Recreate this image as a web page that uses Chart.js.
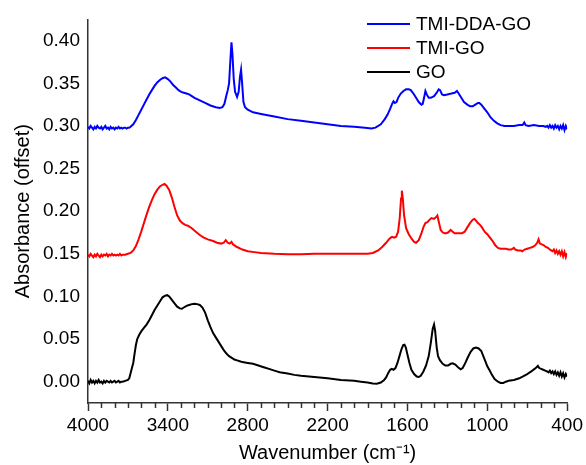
<!DOCTYPE html>
<html>
<head>
<meta charset="utf-8">
<script src="https://cdn.jsdelivr.net/npm/chart.js@4/dist/chart.umd.min.js"></script>
<style>
  body { margin: 0; background: #fff; }
  #wrap { width: 586px; height: 465px; }
</style>
</head>
<body>
<div id="wrap"><canvas id="ftir"></canvas></div>
<script>
// FTIR spectra (offset). wavenumber in cm-1, absorbance
const seriesLabels = ['TMI-DDA-GO', 'TMI-GO', 'GO'];
const seriesColors = ['#0000ff', '#ff0000', '#000000'];

const xTicks = [4000, 3400, 2800, 2200, 1600, 1000, 400];
const yTicks = [0.00, 0.05, 0.10, 0.15, 0.20, 0.25, 0.30, 0.35, 0.40];

const ddaWn = [4000,3990,3980,3970,3960,3950,3940,3930,3920,3910,3900,3890,3880,3870,3860,3850,3840,3830,3820,3810,3800,3790,3780,3770,3760,3750,3740,3730,3720,3710,3700,3690,3680,
  3660,3640,3620,3600,3580,3560,3540,3520,3500,3480,3460,3440,3420,3400,3380,3360,3340,3320,3300,3280,3260,3240,3220,3200,3160,3120,3080,3040,3010,2990,2975,2960,2950,2940,2930,2922,2915,2905,2895,2880,2868,2858,2850,2842,2832,2820,2800,2760,2700,2600,2500,2400,2300,2200,2100,2000,1920,1870,1840,1800,1770,1750,1730,1715,1705,1695,1682,1670,1650,1630,1610,1590,1575,1555,1535,1515,1495,1485,1475,1465,1455,1440,1425,1400,1380,1365,1355,1340,1325,1300,1270,1245,1228,1215,1195,1175,1150,1130,1110,1090,1070,1060,1045,1025,1000,975,950,925,900,870,840,800,760,735,722,712,690,650,610,580,560,550,
  540,530,520,510,500,490,480,470,460,450,440,430,420,410,400];
const ddaAbs = [0.299,0.297,0.300,0.298,0.296,0.299,0.297,0.300,0.298,0.297,0.299,0.296,0.298,0.300,0.297,0.298,0.296,0.299,0.297,0.298,0.296,0.298,0.297,0.299,0.297,0.298,0.297,0.298,0.298,0.297,0.298,0.298,0.299,
  0.302,0.307,0.313,0.319,0.325,0.331,0.337,0.342,0.347,0.351,0.354,0.356,0.357,0.355,0.352,0.348,0.345,0.342,0.340,0.339,0.338,0.337,0.335,0.333,0.330,0.327,0.324,0.322,0.321,0.322,0.326,0.336,0.342,0.350,0.378,0.398,0.385,0.355,0.340,0.334,0.340,0.358,0.366,0.350,0.328,0.322,0.319,0.316,0.314,0.311,0.308,0.306,0.304,0.302,0.300,0.299,0.298,0.297,0.298,0.302,0.308,0.313,0.320,0.326,0.329,0.327,0.328,0.333,0.338,0.341,0.343,0.343,0.342,0.338,0.333,0.328,0.325,0.326,0.333,0.341,0.337,0.333,0.333,0.335,0.339,0.343,0.342,0.337,0.336,0.337,0.338,0.339,0.341,0.338,0.333,0.328,0.325,0.323,0.323,0.325,0.327,0.327,0.325,0.321,0.316,0.310,0.306,0.303,0.301,0.300,0.300,0.300,0.301,0.301,0.304,0.301,0.300,0.301,0.300,0.300,0.299,0.300,
  0.298,0.301,0.298,0.300,0.297,0.301,0.298,0.300,0.296,0.300,0.297,0.301,0.295,0.300,0.296];

const tmiWn = [4000,3990,3980,3970,3960,3950,3940,3930,3920,3910,3900,3890,3880,3870,3860,3850,3840,3830,3820,3810,3800,3790,3780,3770,3760,3750,3740,3720,3700,3680,
  3660,3640,3620,3600,3580,3560,3540,3520,3500,3480,3460,3440,3425,3410,3390,3370,3350,3330,3310,3290,3270,3250,3220,3190,3160,3130,3100,3060,3030,3000,2980,2965,2950,2935,2922,2910,2880,2840,2800,2750,2700,2600,2500,2400,2300,2200,2100,2000,1900,1860,1820,1790,1760,1740,1725,1715,1700,1685,1670,1658,1648,1642,1635,1625,1610,1590,1570,1550,1535,1515,1495,1478,1465,1450,1440,1420,1400,1385,1375,1365,1350,1335,1315,1295,1275,1260,1245,1230,1210,1190,1170,1150,1130,1110,1097,1085,1070,1055,1040,1020,1000,980,960,940,920,900,880,860,840,820,800,790,770,750,737,720,700,680,660,640,625,615,605,590,575,560,545,530,520,
  510,500,490,480,470,460,450,440,430,420,410,400];
const tmiAbs = [0.149,0.147,0.150,0.148,0.146,0.149,0.147,0.150,0.148,0.146,0.149,0.147,0.149,0.148,0.150,0.147,0.149,0.148,0.150,0.148,0.149,0.148,0.149,0.148,0.150,0.148,0.149,0.149,0.150,0.151,
  0.154,0.159,0.167,0.176,0.186,0.196,0.205,0.213,0.220,0.225,0.229,0.231,0.232,0.230,0.225,0.216,0.205,0.195,0.189,0.186,0.184,0.183,0.180,0.176,0.172,0.169,0.167,0.165,0.163,0.162,0.163,0.166,0.163,0.162,0.164,0.161,0.158,0.155,0.153,0.152,0.151,0.150,0.1495,0.1495,0.150,0.150,0.150,0.150,0.150,0.151,0.154,0.158,0.163,0.167,0.169,0.170,0.169,0.170,0.176,0.192,0.215,0.224,0.215,0.195,0.180,0.173,0.168,0.164,0.163,0.166,0.174,0.182,0.186,0.187,0.189,0.192,0.191,0.193,0.195,0.188,0.178,0.175,0.174,0.175,0.178,0.176,0.174,0.174,0.174,0.174,0.176,0.181,0.186,0.190,0.191,0.189,0.186,0.184,0.181,0.176,0.173,0.169,0.165,0.160,0.157,0.156,0.156,0.156,0.155,0.155,0.157,0.155,0.154,0.154,0.153,0.155,0.156,0.157,0.158,0.160,0.163,0.167,0.162,0.161,0.160,0.158,0.157,0.155,0.154,
  0.153,0.155,0.151,0.154,0.150,0.153,0.149,0.153,0.147,0.152,0.146,0.151];

const goWn = [4000,3990,3980,3970,3960,3950,3940,3930,3920,3910,3900,3890,3880,3870,3860,3850,3840,3830,3820,3810,3800,3790,3780,3770,3760,3750,3740,3720,3700,
  3690,3680,3670,3660,3650,3640,3630,3615,3600,3580,3560,3540,3520,3500,3480,3460,3440,3420,3405,3390,3370,3350,3330,3310,3295,3280,3260,3240,3220,3200,3180,3160,3140,3120,3100,3080,3060,3040,3020,3000,2980,2960,2940,2920,2900,2880,2860,2840,2800,2760,2720,2680,2640,2600,2560,2500,2450,2400,2300,2200,2100,2000,1950,1900,1860,1830,1800,1775,1760,1745,1730,1718,1705,1690,1675,1660,1645,1632,1622,1612,1600,1585,1570,1550,1530,1515,1500,1480,1460,1440,1425,1410,1400,1392,1380,1370,1355,1335,1315,1295,1275,1260,1240,1220,1200,1185,1165,1145,1125,1105,1085,1065,1045,1030,1015,1000,985,965,945,920,900,880,860,840,800,760,735,700,670,645,630,620,610,595,580,565,550,
  540,530,520,510,500,490,480,470,460,450,440,430,420,410,400];
const goAbs = [0.001,-0.002,0.002,-0.001,0.001,-0.002,0.001,-0.001,0.002,-0.001,0.000,-0.002,0.001,-0.001,0.001,0.000,-0.001,0.001,-0.001,0.000,0.001,-0.001,0.000,0.001,-0.001,0.000,0.000,0.001,0.002,
  0.004,0.010,0.016,0.022,0.033,0.043,0.050,0.055,0.059,0.063,0.067,0.072,0.078,0.084,0.089,0.094,0.099,0.101,0.1015,0.100,0.096,0.092,0.088,0.086,0.0855,0.087,0.089,0.090,0.091,0.0915,0.091,0.090,0.087,0.081,0.072,0.064,0.057,0.052,0.047,0.042,0.037,0.033,0.030,0.028,0.026,0.025,0.024,0.023,0.022,0.021,0.019,0.017,0.015,0.013,0.011,0.0095,0.008,0.007,0.0055,0.004,0.002,0.001,0.000,-0.001,-0.002,-0.0025,-0.001,0.002,0.005,0.010,0.014,0.015,0.014,0.016,0.022,0.030,0.038,0.043,0.0435,0.040,0.032,0.022,0.014,0.009,0.006,0.0055,0.007,0.012,0.019,0.030,0.045,0.062,0.067,0.060,0.040,0.030,0.025,0.021,0.019,0.019,0.021,0.0215,0.020,0.017,0.0145,0.016,0.022,0.029,0.035,0.039,0.040,0.039,0.036,0.030,0.024,0.018,0.014,0.008,0.003,0.000,-0.0015,-0.0015,0.000,0.001,0.002,0.004,0.006,0.009,0.012,0.015,0.017,0.0185,0.016,0.015,0.014,0.013,0.012,
  0.011,0.013,0.010,0.012,0.009,0.012,0.008,0.011,0.007,0.011,0.006,0.010,0.005,0.009,0.006];

function toPoints(wn, abs) {
  return wn.map((w, i) => ({ x: w, y: abs[i] }));
}

const FONT = "Arial, 'Liberation Sans', sans-serif";

// minor ticks on the x axis + legend drawn at top right
const extrasPlugin = {
  id: 'extras',
  afterDraw(chart) {
    const ctx = chart.ctx;
    const xs = chart.scales.x;
    ctx.save();
    ctx.strokeStyle = '#333';
    ctx.lineWidth = 1.5;
    for (let v = 400; v <= 4000; v += 100) {
      if (xTicks.includes(v)) continue;
      const px = Math.round(xs.getPixelForValue(v)) + 0.5;
      ctx.beginPath();
      ctx.moveTo(px, xs.top);
      ctx.lineTo(px, xs.top + 5);
      ctx.stroke();
    }
    // legend
    ctx.font = '19px ' + FONT;
    ctx.textBaseline = 'middle';
    seriesLabels.forEach((lab, i) => {
      const y = 24 + i * 24;
      ctx.strokeStyle = seriesColors[i];
      ctx.lineWidth = 2;
      ctx.beginPath();
      ctx.moveTo(367, y);
      ctx.lineTo(410, y);
      ctx.stroke();
      ctx.fillStyle = '#000';
      ctx.fillText(lab, 416, y + 1);
    });
    ctx.restore();
  }
};

const ctx = document.getElementById('ftir').getContext('2d');
new Chart(ctx, {
  type: 'line',
  data: {
    datasets: [
      { label: seriesLabels[0], data: toPoints(ddaWn, ddaAbs), borderColor: seriesColors[0] },
      { label: seriesLabels[1], data: toPoints(tmiWn, tmiAbs), borderColor: seriesColors[1] },
      { label: seriesLabels[2], data: toPoints(goWn, goAbs), borderColor: seriesColors[2] }
    ]
  },
  options: {
    responsive: true,
    maintainAspectRatio: false,
    animation: false,
    layout: { padding: { left: 0, right: 18, top: 14, bottom: 0 } },
    elements: {
      point: { radius: 0 },
      line: { borderWidth: 2, tension: 0, fill: false }
    },
    plugins: {
      legend: { display: false },
      tooltip: { enabled: false }
    },
    scales: {
      x: {
        type: 'linear',
        reverse: true,
        min: 400,
        max: 4000,
        afterBuildTicks: s => { s.ticks = xTicks.map(v => ({ value: v })); },
        afterFit: s => { s.height = 62; },
        grid: { drawOnChartArea: false, drawTicks: true, tickLength: 8, tickColor: '#333', tickWidth: 1.5 },
        border: { display: true, color: '#333', width: 1.5 },
        ticks: { color: '#000', font: { family: FONT, size: 19 }, padding: 3, maxRotation: 0, callback: v => String(v) },
        title: { display: true, text: 'Wavenumber (cm\u207B\u00B9)', color: '#000', font: { family: FONT, size: 20 }, padding: { top: 0, bottom: 0 } }
      },
      y: {
        min: -0.025,
        max: 0.425,
        afterBuildTicks: s => { s.ticks = yTicks.map(v => ({ value: v })); },
        afterFit: s => { s.width = 88; },
        grid: { drawOnChartArea: false, drawTicks: false },
        border: { display: true, color: '#333', width: 1.5 },
        ticks: { color: '#000', font: { family: FONT, size: 19 }, padding: 8, callback: v => v.toFixed(2) },
        title: { display: true, text: 'Absorbance (offset)', color: '#000', font: { family: FONT, size: 20 }, padding: { top: 11, bottom: 0 } }
      }
    }
  },
  plugins: [extrasPlugin]
});
</script>
</body>
</html>
